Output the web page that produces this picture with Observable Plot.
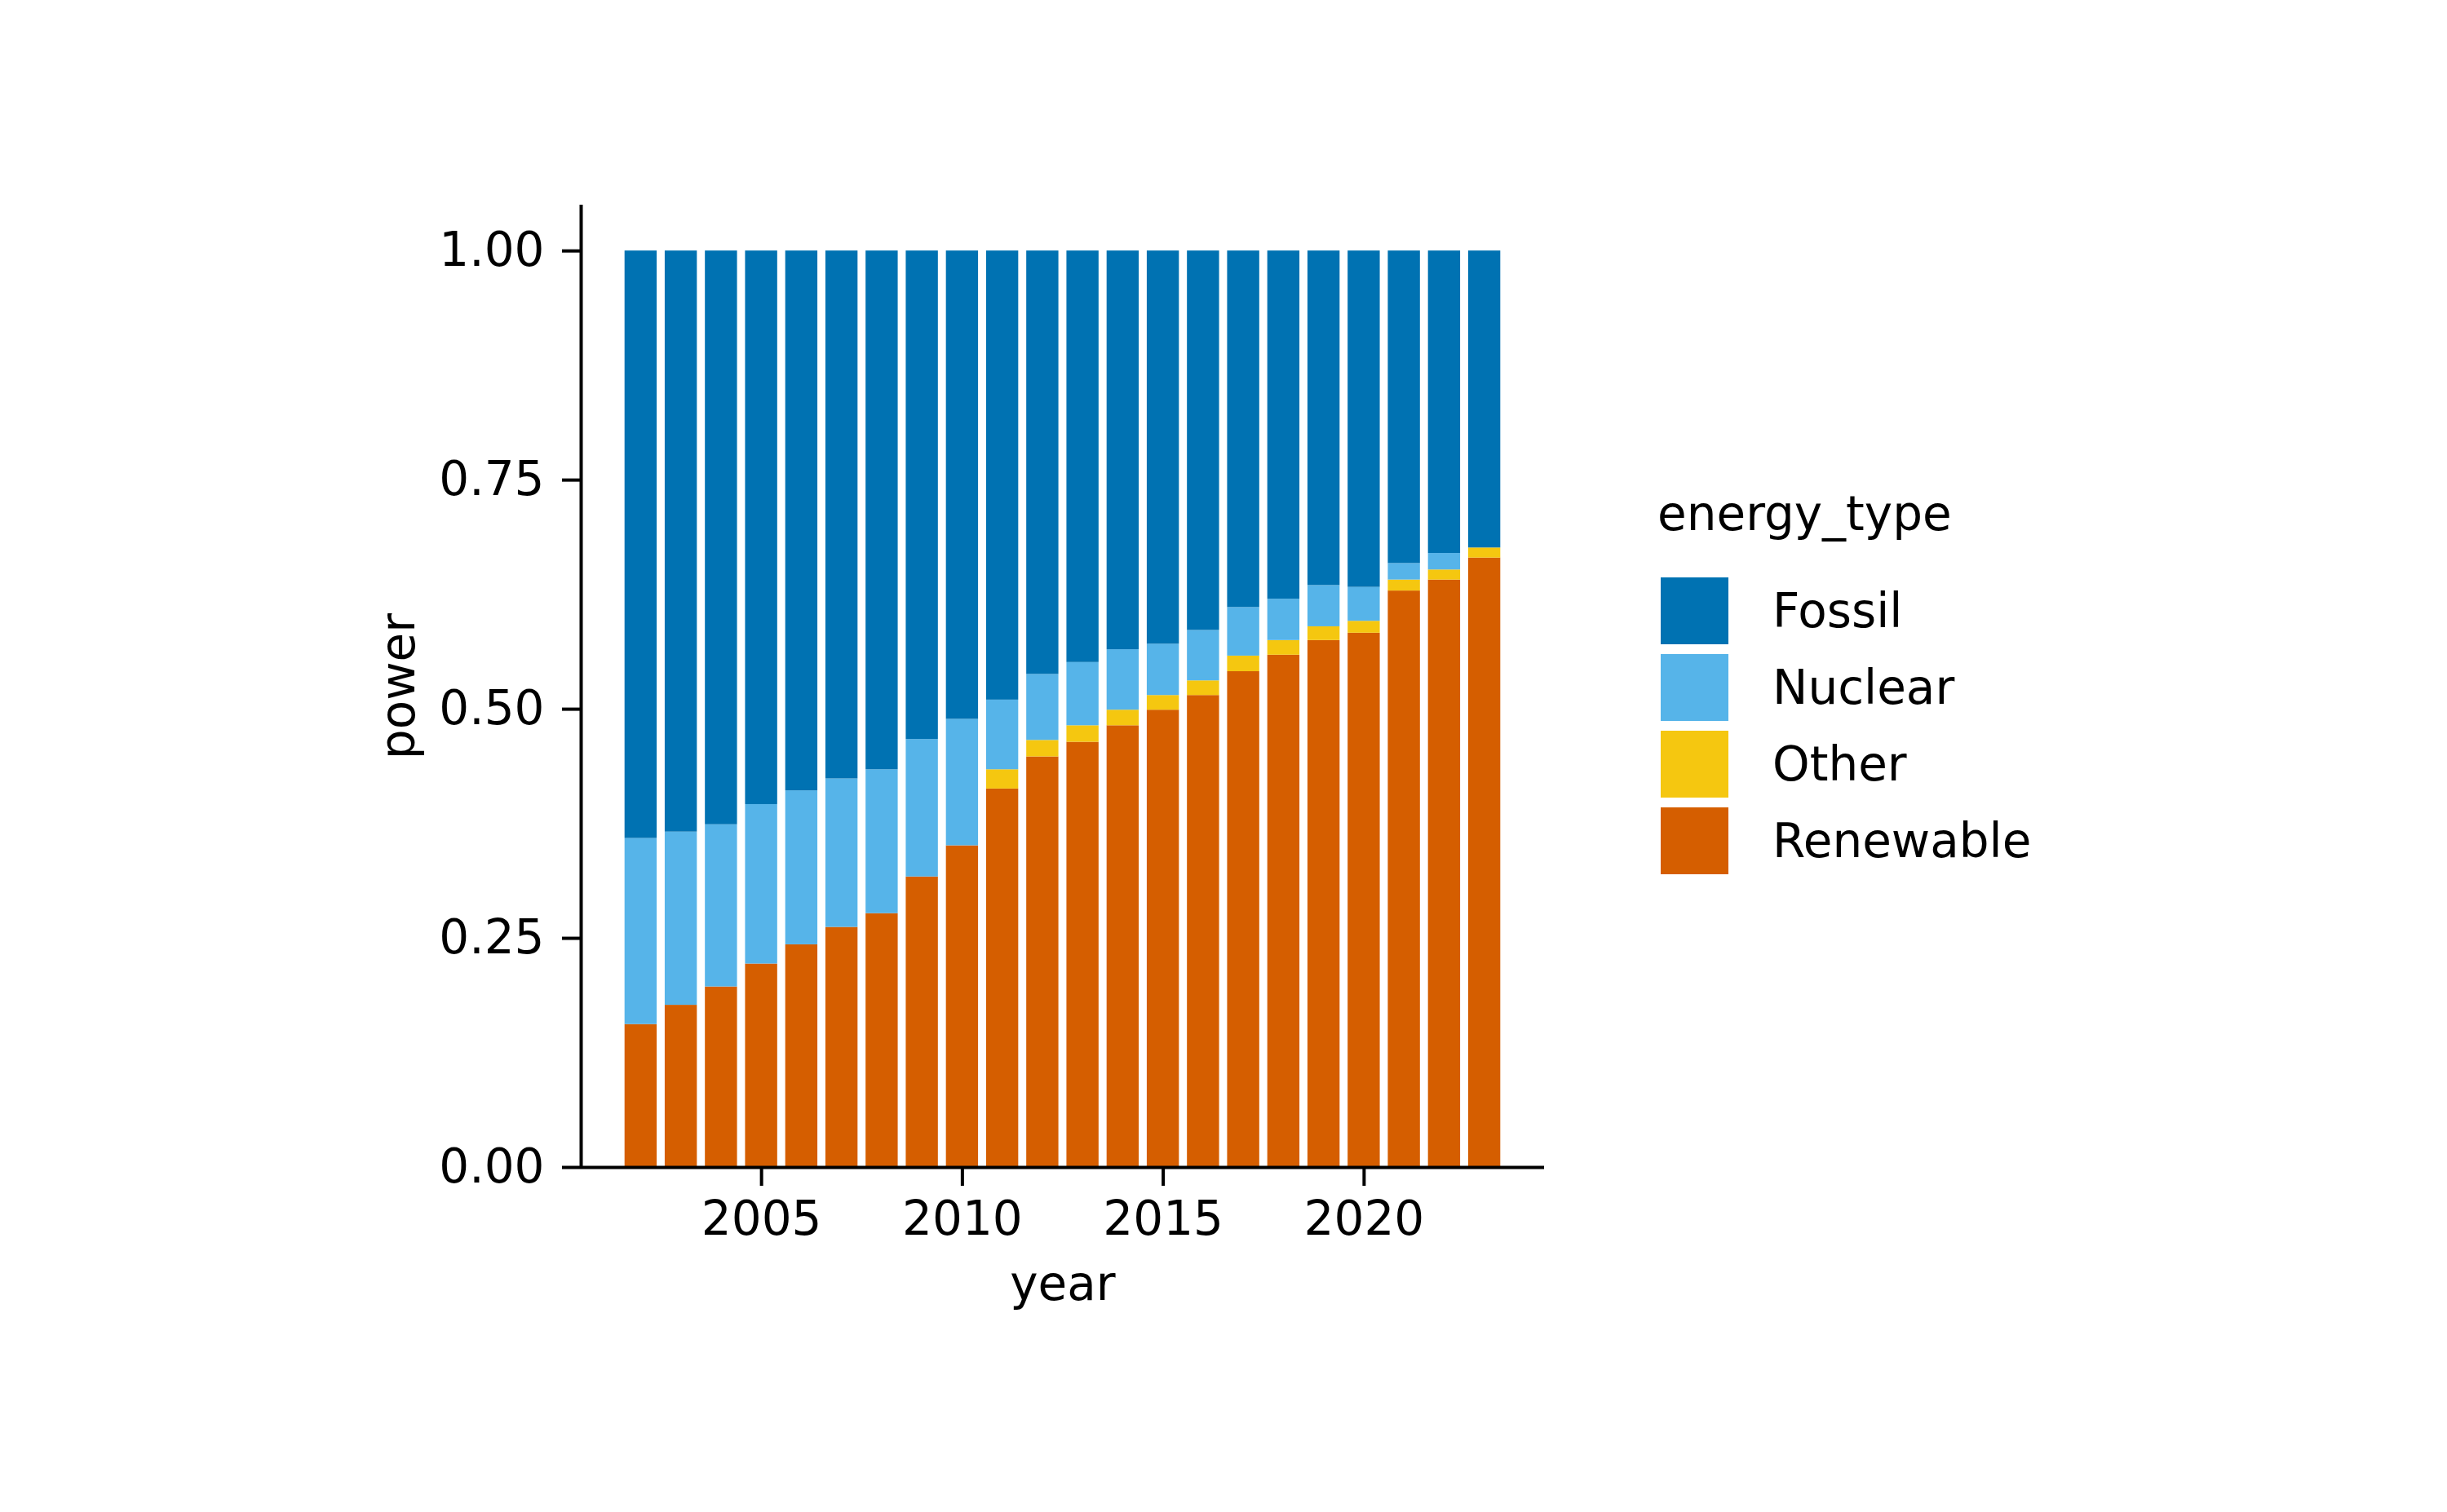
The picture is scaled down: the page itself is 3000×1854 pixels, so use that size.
<!DOCTYPE html>
<html>
<head>
<meta charset="utf-8">
<script src="https://cdn.jsdelivr.net/npm/d3@7"></script>
<script src="https://cdn.jsdelivr.net/npm/@observablehq/plot@0.6"></script>
<style>
  html, body { margin: 0; padding: 0; background: #fff; }
  #wrap { position: relative; width: 3000px; height: 1854px; font-family: "DejaVu Sans", sans-serif; color: #000; }
  #chart { position: absolute; left: 0; top: 0; }
  #legend { position: absolute; left: 2032px; top: 601px; }
  .ltitle { font-size: 58px; line-height: 1; white-space: nowrap; margin-bottom: 49px; }
  .lrow { display: flex; align-items: center; height: 82px; margin-bottom: 12px; margin-left: 4px; }
  .sw { width: 83px; height: 82px; flex: none; }
  .lab { margin-left: 54px; font-size: 58px; line-height: 1; white-space: nowrap; }
</style>
</head>
<body>
<div id="wrap">
  <div id="chart"></div>
  <div id="legend"></div>
</div>
<script>
// ---- data (shares of power by energy type) ----
const years = [2002, 2003, 2004, 2005, 2006, 2007, 2008, 2009, 2010, 2011, 2012,
               2013, 2014, 2015, 2016, 2017, 2018, 2019, 2020, 2021, 2022, 2023];
const renewable = [0.156, 0.177, 0.197, 0.222, 0.243, 0.262, 0.277, 0.317, 0.351, 0.413, 0.448,
                   0.464, 0.482, 0.499, 0.515, 0.541, 0.559, 0.575, 0.583, 0.629, 0.641, 0.665];
const other     = [0, 0, 0, 0, 0, 0, 0, 0, 0, 0.021, 0.018,
                   0.018, 0.017, 0.016, 0.016, 0.017, 0.016, 0.015, 0.013, 0.012, 0.011, 0.011];
const nuclear   = [0.203, 0.189, 0.177, 0.174, 0.168, 0.162, 0.157, 0.150, 0.138, 0.076, 0.072,
                   0.069, 0.066, 0.056, 0.055, 0.053, 0.045, 0.045, 0.037, 0.018, 0.018, 0.000];
const fossil    = [0.641, 0.634, 0.626, 0.604, 0.589, 0.576, 0.566, 0.533, 0.511, 0.490, 0.462,
                   0.449, 0.435, 0.429, 0.414, 0.389, 0.380, 0.365, 0.367, 0.341, 0.330, 0.324];

const legendTypes = ["Fossil", "Nuclear", "Other", "Renewable"];
const typeColors  = ["#0072B2", "#56B4E9", "#F5C710", "#D55E00"];
// stacking order, bottom to top
const stackOrder = ["Renewable", "Other", "Nuclear", "Fossil"];
const seriesByType = {Renewable: renewable, Other: other, Nuclear: nuclear, Fossil: fossil};

const xTicks = [2005, 2010, 2015, 2020];
const yTicks = [0, 0.25, 0.5, 0.75, 1.0];
const xDomain = [2000.51, 2024.49];
const yDomain = [0, 1.05];
const barHalf = 0.4;

const rows = [];
for (const t of stackOrder) {
  years.forEach((yr, i) => rows.push({year: yr, energy_type: t, power: seriesByType[t][i]}));
}

const plot = Plot.plot({
  width: 3000,
  height: 1854,
  marginLeft: 712,
  marginRight: 1107,
  marginTop: 251,
  marginBottom: 423,
  style: {fontFamily: "DejaVu Sans, sans-serif", background: "#fff", color: "#000", overflow: "visible"},
  x: {domain: xDomain},
  y: {domain: yDomain},
  color: {domain: legendTypes, range: typeColors},
  marks: [
    Plot.rectY(rows, {
      x1: d => d.year - barHalf,
      x2: d => d.year + barHalf,
      y: "power",
      fill: "energy_type",
      inset: 0
    }),
    Plot.ruleX([xDomain[0]], {stroke: "#000", strokeWidth: 4}),
    Plot.ruleY([0], {stroke: "#000", strokeWidth: 4}),
    Plot.axisY(yTicks, {
      tickFormat: d3.format(".2f"),
      tickSize: 23, tickPadding: 22, fontSize: 58, strokeWidth: 4,
      label: null
    }),
    Plot.axisY([], {
      label: "power", labelArrow: "none", labelAnchor: "center", labelOffset: 246, fontSize: 58
    }),
    Plot.axisX(xTicks, {
      tickFormat: d => String(d),
      tickSize: 23, tickPadding: 18, fontSize: 58, strokeWidth: 4,
      label: null
    }),
    Plot.axisX([], {
      label: "year", labelArrow: "none", labelAnchor: "center", labelOffset: 162, fontSize: 58
    })
  ]
});
document.getElementById("chart").appendChild(plot);

// legend
const legend = document.getElementById("legend");
const title = document.createElement("div");
title.className = "ltitle";
title.textContent = "energy_type";
legend.appendChild(title);
legendTypes.forEach((t, i) => {
  const row = document.createElement("div");
  row.className = "lrow";
  const sw = document.createElement("div");
  sw.className = "sw";
  sw.style.background = typeColors[i];
  const lab = document.createElement("div");
  lab.className = "lab";
  lab.textContent = t;
  row.appendChild(sw);
  row.appendChild(lab);
  legend.appendChild(row);
});
</script>
</body>
</html>
